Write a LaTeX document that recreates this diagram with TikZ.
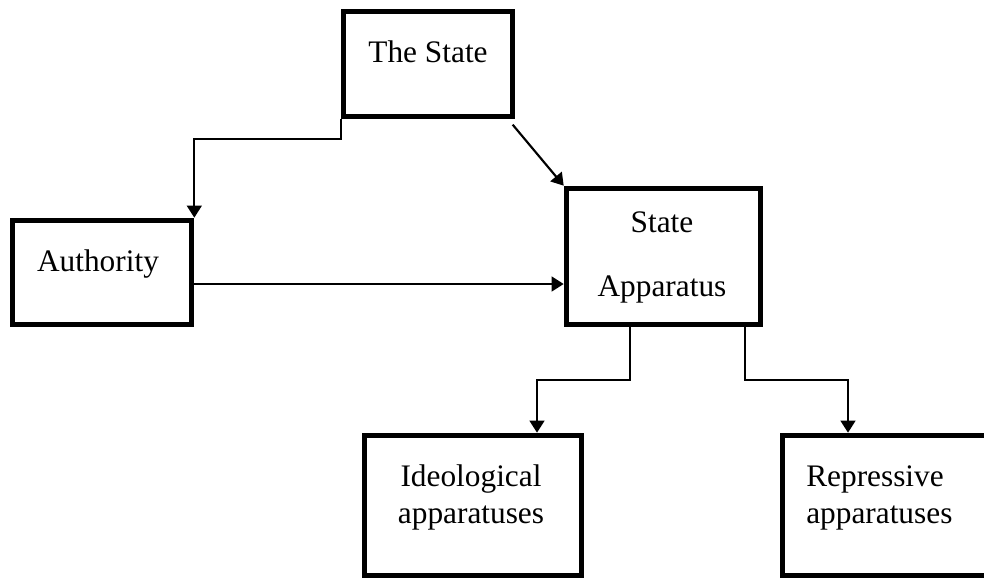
\documentclass[tikz,border=0pt]{standalone}
\usepackage{fontspec}
\setmainfont{Liberation Serif}
\usetikzlibrary{positioning,arrows.meta,calc}
\tikzstyle{block}     = [rectangle, draw=black, line width=4.2pt, inner sep=0pt]
\tikzstyle{boxtext}   = [inner sep=0pt, font=\fontsize{23.5}{27.75}\selectfont]
\tikzstyle{connector} = [line width=1.6pt, -{Triangle[width=11pt,length=9pt]}]

\begin{document}
\begin{tikzpicture}[x=0.75pt,y=-0.75pt]
		\useasboundingbox (0,0) rectangle (984,579);

		% boxes
		\node[block, minimum width=126.75pt, minimum height=78.75pt] (state) at (428,64) {};
		\node[block, minimum width=134.25pt, minimum height=78pt] (auth) at (102,272.5) {};
		\node[block, minimum width=145.5pt, minimum height=102pt] (app) at (663.5,256.5) {};
		\node[block, minimum width=162.75pt, minimum height=105pt] (ideo) at (473,505.5) {};
		\node[block, minimum width=162.75pt, minimum height=105pt] (rep) at (891,505.5) {};

		% texts (base = last line)
		\node[boxtext, anchor=base] (state-t) at (428,62) {The State};
		\node[boxtext, anchor=base] (auth-t) at (98,271) {Authority};
		\node[boxtext, anchor=base, align=center] (app-t) at (662,296) {State\\[20.25pt]Apparatus};
		\node[boxtext, anchor=base, align=center] (ideo-t) at (471,523) {Ideological\\apparatuses};
		\node[boxtext, anchor=base west, align=left] (rep-t) at (806,523) {Repressive\\apparatuses};

		% connectors
		\draw[connector] (state.south west) -- ++(0,20) -| (auth.north east);
		\draw[connector] ([shift={(-2pt,-4pt)}]state.south east) -- (app.north west);
		\coordinate (a1) at ($(auth.east)+(0,11.5)$);
		\draw[connector] (a1) -- (a1 -| app.west);
		\draw[connector] ($(app.south)+(-33.5,0)$) -- ++(0,53) -| ($(ideo.north)+(64,0)$);
		\draw[connector] ($(app.south)+(81.5,0)$) -- ++(0,53) -| ($(rep.north)+(-43,0)$);
	\end{tikzpicture}
\end{document}
